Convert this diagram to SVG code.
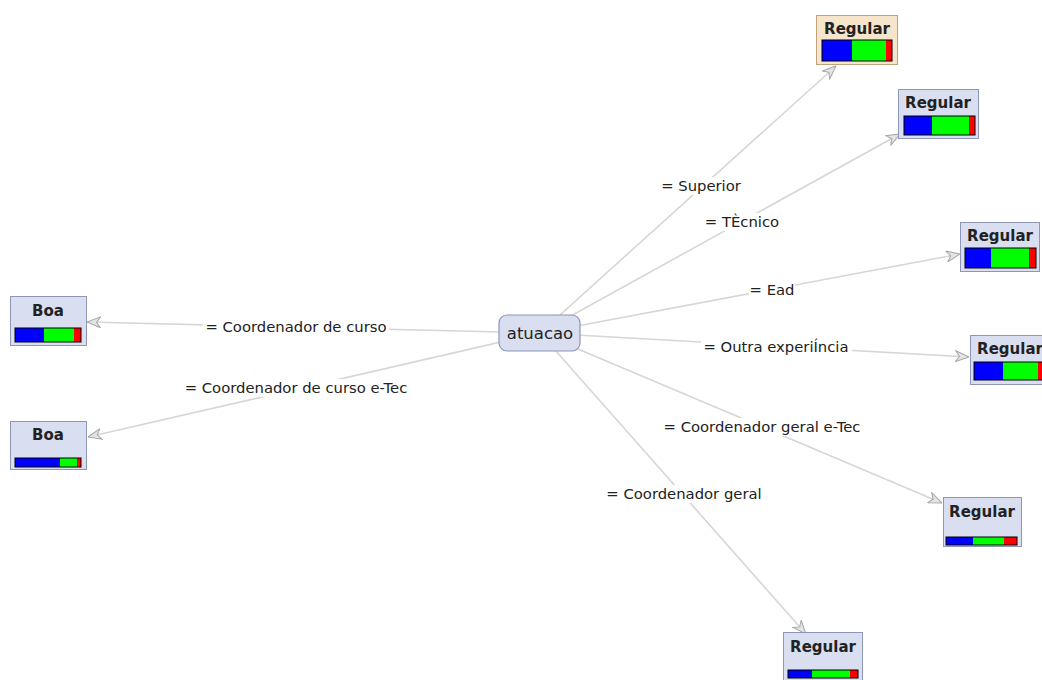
<svg xmlns="http://www.w3.org/2000/svg" width="1042" height="680" viewBox="0 0 1042 680">
<style>
.edge{stroke:#d6d6d6;stroke-width:1.6;fill:none;marker-end:url(#arr)}
.lbg{fill:#ffffff}
.lbl{font-family:"DejaVu Sans",sans-serif;font-size:14.8px;fill:#222;text-anchor:middle}
.box{fill:#d9def1;stroke:#8c96b8;stroke-width:1}
.hl{fill:#f6e4cb;stroke:#c2a27a;stroke-width:1}
.title{font-family:"DejaVu Sans",sans-serif;font-size:15px;font-weight:bold;fill:#222;text-anchor:middle}
.bar{stroke:#000;stroke-width:1;fill:none}
.b{fill:#0000ff}.g{fill:#00ff00}.r{fill:#ff0000}
.center{fill:#d9def1;stroke:#8c96b8;stroke-width:1.2}
.ctext{font-family:"DejaVu Sans",sans-serif;font-size:16.5px;fill:#222;text-anchor:middle}
</style>
<defs>
<marker id="arr" viewBox="0 0 14 12" refX="14" refY="6" markerWidth="14" markerHeight="12" markerUnits="userSpaceOnUse" orient="auto">
<path d="M0.5,0.5 L14,6 L0.5,11.5 L4.5,6 Z" fill="#e4e4e4" stroke="#a6a6a6" stroke-width="1"/>
</marker>
</defs>
<rect width="1042" height="680" fill="#ffffff"/>
<g id="connectors">
<line class="edge" x1="540" y1="333" x2="836" y2="66"/>
<line class="edge" x1="540" y1="333" x2="900" y2="134"/>
<line class="edge" x1="540" y1="333" x2="960" y2="254"/>
<line class="edge" x1="540" y1="333" x2="969" y2="357"/>
<line class="edge" x1="540" y1="333" x2="942" y2="503"/>
<line class="edge" x1="540" y1="333" x2="806" y2="634"/>
<line class="edge" x1="540" y1="333" x2="87" y2="322"/>
<line class="edge" x1="540" y1="333" x2="88" y2="437"/>
<rect class="lbg" x="660" y="177" width="82" height="18"/>
<text class="lbl" x="701" y="191">= Superior</text>
<rect class="lbg" x="704" y="213" width="77" height="18"/>
<text class="lbl" x="742" y="227">= TÈcnico</text>
<rect class="lbg" x="749" y="281" width="46" height="18"/>
<text class="lbl" x="772" y="295">= Ead</text>
<rect class="lbg" x="701" y="338" width="151" height="18"/>
<text class="lbl" x="776" y="352">= Outra experiÍncia</text>
<rect class="lbg" x="657" y="418" width="211" height="18"/>
<text class="lbl" x="762" y="432">= Coordenador geral e-Tec</text>
<rect class="lbg" x="604" y="485" width="161" height="18"/>
<text class="lbl" x="684" y="499">= Coordenador geral</text>
<rect class="lbg" x="203" y="318" width="186" height="18"/>
<text class="lbl" x="296" y="332">= Coordenador de curso</text>
<rect class="lbg" x="178" y="379" width="237" height="18"/>
<text class="lbl" x="296" y="393">= Coordenador de curso e-Tec</text>
</g>
<g id="atuacao">
<rect class="center" x="499" y="315" width="81" height="36" rx="8"/>
<text class="ctext" x="540" y="339">atuacao</text>
</g>
<g id="n-superior">
<rect class="hl" x="816.5" y="15.5" width="81" height="49"/>
<text class="title" x="857" y="34">Regular</text>
<rect class="b" x="822" y="40" width="30" height="21"/>
<rect class="g" x="852" y="40" width="34" height="21"/>
<rect class="r" x="886" y="40" width="6" height="21"/>
<rect class="bar" x="822" y="40" width="70" height="21"/>
</g>
<g id="n-tecnico">
<rect class="box" x="898.5" y="89.5" width="80" height="49"/>
<text class="title" x="938" y="108">Regular</text>
<rect class="b" x="904" y="116" width="28" height="19"/>
<rect class="g" x="932" y="116" width="37" height="19"/>
<rect class="r" x="969" y="116" width="6" height="19"/>
<rect class="bar" x="904" y="116" width="71" height="19"/>
</g>
<g id="n-ead">
<rect class="box" x="960.5" y="222.5" width="79" height="49"/>
<text class="title" x="1000" y="241">Regular</text>
<rect class="b" x="965" y="248" width="26" height="20"/>
<rect class="g" x="991" y="248" width="38" height="20"/>
<rect class="r" x="1029" y="248" width="7" height="20"/>
<rect class="bar" x="965" y="248" width="71" height="20"/>
</g>
<g id="n-outra">
<rect class="box" x="970.5" y="335.5" width="80" height="49"/>
<text class="title" x="1010" y="354">Regular</text>
<rect class="b" x="974" y="362" width="29" height="18"/>
<rect class="g" x="1003" y="362" width="35" height="18"/>
<rect class="r" x="1038" y="362" width="8" height="18"/>
<rect class="bar" x="974" y="362" width="72" height="18"/>
</g>
<g id="n-geral-etec">
<rect class="box" x="943.5" y="497.5" width="78" height="49"/>
<text class="title" x="982" y="517">Regular</text>
<rect class="b" x="946" y="537" width="27" height="8"/>
<rect class="g" x="973" y="537" width="31" height="8"/>
<rect class="r" x="1004" y="537" width="13" height="8"/>
<rect class="bar" x="946" y="537" width="71" height="8"/>
</g>
<g id="n-geral">
<rect class="box" x="783.5" y="632.5" width="79" height="49"/>
<text class="title" x="823" y="652">Regular</text>
<rect class="b" x="788" y="670" width="24" height="8"/>
<rect class="g" x="812" y="670" width="38" height="8"/>
<rect class="r" x="850" y="670" width="8" height="8"/>
<rect class="bar" x="788" y="670" width="70" height="8"/>
</g>
<g id="n-curso">
<rect class="box" x="10.5" y="296.5" width="76" height="49"/>
<text class="title" x="48" y="316">Boa</text>
<rect class="b" x="15" y="328" width="29" height="14"/>
<rect class="g" x="44" y="328" width="30" height="14"/>
<rect class="r" x="74" y="328" width="7" height="14"/>
<rect class="bar" x="15" y="328" width="66" height="14"/>
</g>
<g id="n-curso-etec">
<rect class="box" x="10.5" y="421.5" width="76" height="48"/>
<text class="title" x="48" y="440">Boa</text>
<rect class="b" x="15" y="458" width="45" height="9"/>
<rect class="g" x="60" y="458" width="17" height="9"/>
<rect class="r" x="77" y="458" width="4" height="9"/>
<rect class="bar" x="15" y="458" width="66" height="9"/>
</g>
</svg>
